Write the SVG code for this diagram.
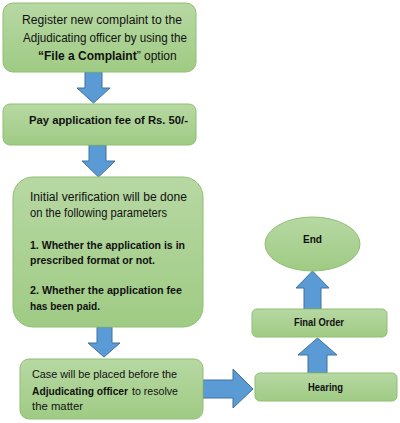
<svg xmlns="http://www.w3.org/2000/svg" width="400" height="423" viewBox="0 0 400 423">
<defs>
<linearGradient id="g" x1="0" y1="0" x2="0" y2="1">
<stop offset="0" stop-color="#b7d8a3"/>
<stop offset="1" stop-color="#9fcb84"/>
</linearGradient>
<style>
.n{fill:url(#g);stroke:#8fbf70;stroke-width:1}
.a{fill:#5b9bd5;stroke:#41719c;stroke-width:1}
text{font-family:"Liberation Sans",Arial,sans-serif;font-size:12px;fill:#111}
.b{font-weight:bold}
.s{font-size:11.3px}
.m{font-size:11px}
.t{font-size:10px}
</style>
</defs>
<rect width="400" height="423" fill="#fff"/>
<g id="connectors">
<polygon class="a" points="85,72 102,72 102,88 110,88 93.5,103 77,88 85,88"/>
<polygon class="a" points="89,145 106,145 106,161 115,161 98.5,177 82,161 89,161"/>
<polygon class="a" points="97,327 112,327 112,343 120,343 104,357 88,343 97,343"/>
<polygon class="a" points="203,380 233,380 233,369 253,389 233,408 233,398 203,398"/>
<polygon class="a" points="308,373 308,355 298,355 317.5,338 337,355 327,355 327,373"/>
<polygon class="a" points="304,309 304,288 296,288 312.5,271 329,288 321,288 321,309"/>
</g>
<g id="n1">
<rect class="n" x="3" y="3" width="193" height="69" rx="10"/>
<text x="22" y="24" textLength="160" lengthAdjust="spacingAndGlyphs">Register new complaint to the</text>
<text x="23" y="42" textLength="164" lengthAdjust="spacingAndGlyphs">Adjudicating officer by using the</text>
<text x="38" y="60" font-size="11.6"><tspan class="b">“File a Complaint</tspan>” option</text>
</g>
<g id="n2">
<rect class="n" x="3" y="104" width="193" height="41" rx="7"/>
<text class="b s" x="29" y="124" textLength="159" lengthAdjust="spacingAndGlyphs">Pay application fee of Rs. 50/-</text>
</g>
<g id="n3">
<rect class="n" x="13" y="177" width="190" height="150" rx="20"/>
<text x="30" y="201" textLength="157" lengthAdjust="spacingAndGlyphs">Initial verification will be done</text>
<text x="30" y="217" textLength="137" lengthAdjust="spacingAndGlyphs">on the following parameters</text>
<text class="b s" x="30" y="249" textLength="155" lengthAdjust="spacingAndGlyphs">1. Whether the application is in</text>
<text class="b s" x="30" y="264" textLength="125" lengthAdjust="spacingAndGlyphs">prescribed format or not.</text>
<text class="b s" x="30" y="294" textLength="152" lengthAdjust="spacingAndGlyphs">2. Whether the application fee</text>
<text class="b s" x="30" y="310" textLength="70" lengthAdjust="spacingAndGlyphs">has been paid.</text>
</g>
<g id="n4">
<rect class="n" x="20" y="359" width="183" height="60" rx="9"/>
<text class="m" x="32" y="378" textLength="145" lengthAdjust="spacingAndGlyphs">Case will be placed before the</text>
<text class="m b" x="32" y="395" textLength="96" lengthAdjust="spacingAndGlyphs">Adjudicating officer</text>
<text class="m" x="132" y="395" textLength="46" lengthAdjust="spacingAndGlyphs">to resolve</text>
<text class="m" x="32" y="410" textLength="51" lengthAdjust="spacingAndGlyphs">the matter</text>
</g>
<g id="n5">
<rect class="n" x="255" y="373" width="142" height="28" rx="5"/>
<text class="b t" x="308" y="391" textLength="35" lengthAdjust="spacingAndGlyphs">Hearing</text>
</g>
<g id="n6">
<rect class="n" x="252" y="309" width="135" height="28" rx="5"/>
<text class="b t" x="294" y="326" textLength="50" lengthAdjust="spacingAndGlyphs">Final Order</text>
</g>
<g id="n7">
<ellipse class="n" cx="312.5" cy="244" rx="47.5" ry="27"/>
<text class="b t" x="303" y="243" textLength="19" lengthAdjust="spacingAndGlyphs">End</text>
</g>
</svg>
